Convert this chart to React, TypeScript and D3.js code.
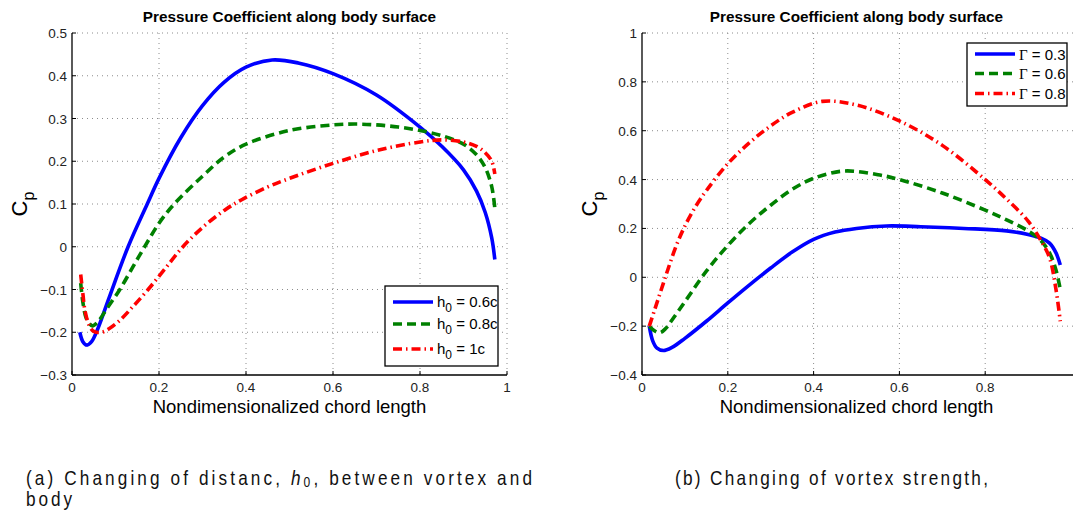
import React from "react";
import * as d3 from "d3";

// ---------- data ----------
const xTicksA = [0, 0.2, 0.4, 0.6, 0.8, 1];
const yTicksA = [-0.3, -0.2, -0.1, 0, 0.1, 0.2, 0.3, 0.4, 0.5];
const xTicksB = [0, 0.2, 0.4, 0.6, 0.8];
const yTicksB = [-0.4, -0.2, 0, 0.2, 0.4, 0.6, 0.8, 1];

const a06x = [0.018, 0.025, 0.034, 0.045, 0.06, 0.085, 0.129, 0.173, 0.2, 0.25, 0.3, 0.35, 0.4, 0.46, 0.52, 0.6, 0.7, 0.8, 0.85, 0.9, 0.93, 0.95, 0.965, 0.972];
const a06y = [-0.2, -0.222, -0.23, -0.222, -0.19, -0.12, 0.0, 0.1, 0.16, 0.255, 0.33, 0.385, 0.42, 0.437, 0.43, 0.405, 0.355, 0.28, 0.235, 0.18, 0.13, 0.08, 0.02, -0.03];

const a08x = [0.02, 0.025, 0.032, 0.04, 0.047, 0.06, 0.08, 0.11, 0.14, 0.167, 0.2, 0.235, 0.3, 0.35, 0.4, 0.5, 0.6, 0.65, 0.7, 0.75, 0.8, 0.85, 0.9, 0.93, 0.95, 0.965, 0.972];
const a08y = [-0.085, -0.13, -0.165, -0.18, -0.185, -0.175, -0.145, -0.1, -0.047, 0.0, 0.055, 0.1, 0.165, 0.21, 0.24, 0.272, 0.285, 0.287, 0.285, 0.28, 0.272, 0.26, 0.24, 0.215, 0.185, 0.14, 0.09];

const a10x = [0.02, 0.025, 0.03, 0.04, 0.05, 0.068, 0.085, 0.11, 0.14, 0.175, 0.215, 0.255, 0.3, 0.35, 0.39, 0.45, 0.5, 0.6, 0.7, 0.8, 0.85, 0.9, 0.93, 0.95, 0.965, 0.972];
const a10y = [-0.065, -0.11, -0.15, -0.185, -0.198, -0.2, -0.192, -0.172, -0.14, -0.1, -0.05, 0.0, 0.045, 0.085, 0.11, 0.14, 0.16, 0.195, 0.225, 0.245, 0.25, 0.245, 0.235, 0.22, 0.2, 0.17];

const b03x = [0.017, 0.025, 0.035, 0.05, 0.07, 0.1, 0.15, 0.2, 0.25, 0.3, 0.35, 0.4, 0.45, 0.5, 0.57, 0.65, 0.75, 0.85, 0.9, 0.93, 0.95, 0.965, 0.975];
const b03y = [-0.2, -0.26, -0.29, -0.3, -0.287, -0.25, -0.18, -0.105, -0.032, 0.038, 0.103, 0.155, 0.185, 0.2, 0.21, 0.207, 0.2, 0.19, 0.175, 0.16, 0.14, 0.1, 0.05];

const b06x = [0.017, 0.03, 0.042, 0.055, 0.07, 0.1, 0.15, 0.2, 0.25, 0.3, 0.35, 0.4, 0.47, 0.55, 0.6, 0.7, 0.8, 0.85, 0.9, 0.93, 0.95, 0.965, 0.975];
const b06y = [-0.2, -0.22, -0.227, -0.21, -0.175, -0.1, 0.025, 0.13, 0.22, 0.295, 0.36, 0.405, 0.435, 0.42, 0.4, 0.345, 0.275, 0.235, 0.19, 0.15, 0.1, 0.03, -0.05];

const b08x = [0.017, 0.03, 0.045, 0.06, 0.08, 0.1, 0.125, 0.15, 0.2, 0.25, 0.3, 0.35, 0.42, 0.5, 0.6, 0.7, 0.8, 0.85, 0.9, 0.93, 0.95, 0.965, 0.975];
const b08y = [-0.2, -0.13, -0.05, 0.03, 0.13, 0.21, 0.29, 0.355, 0.465, 0.55, 0.62, 0.675, 0.72, 0.705, 0.64, 0.54, 0.4, 0.32, 0.23, 0.15, 0.08, -0.05, -0.18];

const titleText = "Pressure Coefficient along body surface";
const xLabelText = "Nondimensionalized chord length";

const BLUE = "#0000ff";
const GREEN = "#008000";
const RED = "#ff0000";
const DASH = "9,5";
const DASHDOT = "9,4,1.5,4";

type Series = { xs: number[]; ys: number[]; color: string; dash?: string; label: React.ReactNode };

const font = "'Liberation Sans', Arial, Helvetica, sans-serif";

function Panel(props: {
  x0: number; x1: number; y0: number; y1: number;
  xDomain: [number, number]; yDomain: [number, number];
  xTicks: number[]; yTicks: number[]; showRightGrid: boolean;
  series: Series[];
  legend: { x: number; y: number; w: number; h: number; rows: number[] };
}) {
  const { x0, x1, y0, y1 } = props;
  const xs = d3.scaleLinear().domain(props.xDomain).range([x0, x1]);
  const ys = d3.scaleLinear().domain(props.yDomain).range([y1, y0]);
  const fmt = (v: number) => {
    const s = d3.format("")(Math.round(v * 10) / 10);
    return s.replace("-", "\u2212");
  };
  const line = d3.line<[number, number]>().x(d => xs(d[0])).y(d => ys(d[1])).curve(d3.curveCatmullRom.alpha(0.5));
  const cx = (x0 + x1) / 2;
  const L = props.legend;
  return (
    <g>
      {props.xTicks.filter(t => t !== props.xDomain[0]).map((t, i) => (
        <line key={"gx" + i} x1={xs(t)} x2={xs(t)} y1={y0} y2={y1} stroke="#8c8c8c" strokeWidth={1} strokeDasharray="1,4" />
      ))}
      {props.yTicks.filter(t => t !== props.yDomain[0]).map((t, i) => (
        <line key={"gy" + i} x1={x0} x2={props.showRightGrid ? x1 : 1073} y1={ys(t)} y2={ys(t)} stroke="#8c8c8c" strokeWidth={1} strokeDasharray="1,4" />
      ))}
      <line x1={x0} x2={x0} y1={y0} y2={y1} stroke="#000" strokeWidth={1.3} />
      <line x1={x0} x2={props.showRightGrid ? x1 : 1073} y1={y1} y2={y1} stroke="#000" strokeWidth={1.3} />
      {props.yTicks.map((t, i) => (
        <g key={"ty" + i}>
          <line x1={x0} x2={x0 + 4} y1={ys(t)} y2={ys(t)} stroke="#000" />
          <text x={x0 - 5} y={ys(t) + 5} textAnchor="end" fontSize={13.5} fontFamily={font} fill="#222">{fmt(t)}</text>
        </g>
      ))}
      {props.xTicks.map((t, i) => (
        <g key={"tx" + i}>
          <line x1={xs(t)} x2={xs(t)} y1={y1} y2={y1 - 4} stroke="#000" />
          <text x={xs(t)} y={y1 + 17} textAnchor="middle" fontSize={13.5} fontFamily={font} fill="#222">{fmt(t)}</text>
        </g>
      ))}
      <text x={cx} y={22} textAnchor="middle" fontSize={15.3} fontWeight="bold" fontFamily={font} fill="#000">{titleText}</text>
      <text x={cx} y={413} textAnchor="middle" fontSize={18.5} fontFamily={font} fill="#000">{xLabelText}</text>
      <text transform={`translate(${x0 - 45},${(y0 + y1) / 2}) rotate(-90)`} textAnchor="middle" fontSize={22} fontFamily={font} fill="#000">
        C<tspan fontSize={16} dy={7}>p</tspan>
      </text>
      {props.series.map((s, i) => (
        <path key={"s" + i} d={line(s.xs.map((x, j) => [x, s.ys[j]] as [number, number])) || ""} fill="none" stroke={s.color} strokeWidth={3.6} strokeDasharray={s.dash} strokeLinejoin="round" />
      ))}
      <rect x={L.x} y={L.y} width={L.w} height={L.h} fill="#fff" stroke="#000" strokeWidth={1.3} />
      {props.series.map((s, i) => (
        <g key={"l" + i}>
          <line x1={L.x + 8} x2={L.x + 48} y1={L.rows[i]} y2={L.rows[i]} stroke={s.color} strokeWidth={3.6} strokeDasharray={s.dash} />
          {s.label}
        </g>
      ))}
    </g>
  );
}

function hLabel(x: number, y: number, v: string) {
  return (
    <text x={x} y={y} fontSize={15} fontFamily={font} fill="#000">
      h<tspan fontSize={12} dy={5}>0</tspan><tspan dy={-5}>{" = " + v}</tspan>
    </text>
  );
}
function gLabel(x: number, y: number, v: string) {
  return (
    <text x={x} y={y} fontSize={15} fontFamily={font} fill="#000">
      <tspan fontFamily="'Liberation Serif', 'Times New Roman', serif">Γ</tspan>{" = " + v}
    </text>
  );
}

export default function App() {
  const legA = { x: 385, y: 286, w: 113, h: 80, rows: [302, 324, 349] };
  const legB = { x: 967, y: 43, w: 100, h: 63, rows: [54, 73.5, 93.5] };
  const seriesA: Series[] = [
    { xs: a06x, ys: a06y, color: BLUE, label: hLabel(437, 307, "0.6c") },
    { xs: a08x, ys: a08y, color: GREEN, dash: DASH, label: hLabel(437, 329, "0.8c") },
    { xs: a10x, ys: a10y, color: RED, dash: DASHDOT, label: hLabel(437, 354, "1c") },
  ];
  const seriesB: Series[] = [
    { xs: b03x, ys: b03y, color: BLUE, label: gLabel(1019, 59.5, "0.3") },
    { xs: b06x, ys: b06y, color: GREEN, dash: DASH, label: gLabel(1019, 79, "0.6") },
    { xs: b08x, ys: b08y, color: RED, dash: DASHDOT, label: gLabel(1019, 99, "0.8") },
  ];
  const capFont = "'Liberation Sans', Arial, sans-serif";
  const sx = 0.86;
  return (
    <svg width={1073} height={513} style={{ position: "absolute", left: 0, top: 0, background: "#fff" }}>
      <rect x={0} y={0} width={1073} height={513} fill="#fff" />
      <Panel x0={72} x1={507} y0={33} y1={375} xDomain={[0, 1]} yDomain={[-0.3, 0.5]}
        xTicks={xTicksA} yTicks={yTicksA} showRightGrid={true} series={seriesA} legend={legA} />
      <Panel x0={642} x1={1071} y0={33} y1={375} xDomain={[0, 1]} yDomain={[-0.4, 1]}
        xTicks={xTicksB} yTicks={yTicksB} showRightGrid={false} series={seriesB} legend={legB} />
      <g transform={`translate(26,485) scale(${sx},1)`}>
        <text x={0} y={0} fontSize={20} fontFamily={capFont} fill="#111" textLength={506 / sx} lengthAdjust="spacing">
          (a)  Changing of distanc, <tspan fontStyle="italic">h</tspan><tspan fontSize={14} dy={2}>0</tspan><tspan dy={-2}>, between vortex and</tspan>
        </text>
        <text x={0} y={21} fontSize={20} fontFamily={capFont} fill="#111" textLength={46 / sx} lengthAdjust="spacing">body</text>
      </g>
      <g transform={`translate(675,485) scale(${sx},1)`}>
        <text x={0} y={0} fontSize={20} fontFamily={capFont} fill="#111" textLength={313 / sx} lengthAdjust="spacing">(b)  Changing of vortex strength,</text>
      </g>
    </svg>
  );
}
